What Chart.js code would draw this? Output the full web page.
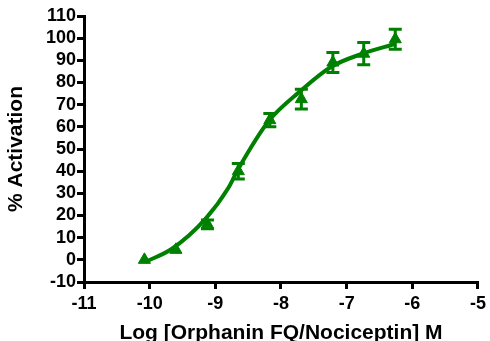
<!DOCTYPE html>
<html>
<head>
<meta charset="utf-8">
<script src="https://cdn.jsdelivr.net/npm/chart.js@4"></script>
<style>
  html, body { margin: 0; padding: 0; background: #fff; }
  #wrap { width: 490px; height: 341px; }
</style>
</head>
<body>
<div id="wrap"><canvas id="chart"></canvas></div>
<script>
// measured points (log molar concentration, % activation, SEM)
const logConc = [-10.08, -9.6, -9.12, -8.65, -8.17, -7.69, -7.21, -6.74, -6.26];
const activation = [0, 4.5, 16, 40, 63, 72.5, 89, 93, 99.5];
const sem = [0, 0, 2, 3.5, 3, 4.5, 4.5, 5, 4.5];

// fitted curve
const curveX = [-10.07, -9.66, -9.15, -8.8, -8.65, -8.19, -7.71, -7.24, -6.76, -6.25];
const curveY = [-1, 5, 18.5, 32.5, 41, 62.5, 76, 87, 93, 97.5];

const xTicks = [-11, -10, -9, -8, -7, -6, -5];
const green = '#008000';

const errorBars = {
  id: 'errorBars',
  afterDatasetsDraw(chart) {
    const ctx = chart.ctx;
    const xs = chart.scales.x, ys = chart.scales.y;
    ctx.save();
    ctx.strokeStyle = green;
    ctx.lineWidth = 3;
    logConc.forEach((v, i) => {
      if (!sem[i]) return;
      const px = xs.getPixelForValue(v);
      const top = ys.getPixelForValue(activation[i] + sem[i]);
      const bot = ys.getPixelForValue(activation[i] - sem[i]);
      ctx.beginPath();
      ctx.moveTo(px, top); ctx.lineTo(px, bot);
      ctx.moveTo(px - 6.5, top); ctx.lineTo(px + 6.5, top);
      ctx.moveTo(px - 6.5, bot); ctx.lineTo(px + 6.5, bot);
      ctx.stroke();
    });
    ctx.restore();
  }
};

const family = 'Liberation Sans, Arial, sans-serif';
const tickFont = { family: family, weight: 'bold', size: 18 };
const titleFont = { family: family, weight: 'bold', size: 21 };

new Chart(document.getElementById('chart'), {
  type: 'scatter',
  data: {
    datasets: [
      {
        type: 'line',
        data: curveX.map((x, i) => ({ x: x, y: curveY[i] })),
        borderColor: green,
        borderWidth: 4,
        pointRadius: 0,
        cubicInterpolationMode: 'monotone',
        fill: false
      },
      {
        data: logConc.map((x, i) => ({ x: x, y: activation[i] })),
        pointStyle: 'triangle',
        pointRadius: 7,
        backgroundColor: green,
        borderColor: green,
        borderWidth: 1
      }
    ]
  },
  options: {
    responsive: true,
    maintainAspectRatio: false,
    animation: false,
    layout: { padding: { top: 16, right: 8, left: 0, bottom: 0 } },
    plugins: { legend: { display: false }, tooltip: { enabled: false } },
    scales: {
      x: {
        type: 'linear',
        min: -11, max: -5,
        afterBuildTicks: s => { s.ticks = xTicks.map(v => ({ value: v })); },
        afterFit: s => { s.height = 59; },
        border: { color: '#000', width: 3 },
        grid: { drawOnChartArea: false, color: '#000', lineWidth: 3, tickLength: 7 },
        ticks: { color: '#000', font: tickFont, padding: 4, maxRotation: 0, autoSkip: false },
        title: { display: true, text: 'Log [Orphanin FQ/Nociceptin] M', color: '#000',
                 font: titleFont, padding: { top: 0, bottom: -5 } }
      },
      y: {
        min: -10, max: 110,
        ticks: { stepSize: 10, color: '#000', font: tickFont, padding: 1, autoSkip: false },
        afterFit: s => { s.width = 84; },
        border: { color: '#000', width: 3 },
        grid: { drawOnChartArea: false, color: '#000', lineWidth: 3, tickLength: 7 },
        title: { display: true, text: '% Activation', color: '#000',
                 font: titleFont, padding: 4 }
      }
    }
  },
  plugins: [errorBars]
});
</script>
</body>
</html>
